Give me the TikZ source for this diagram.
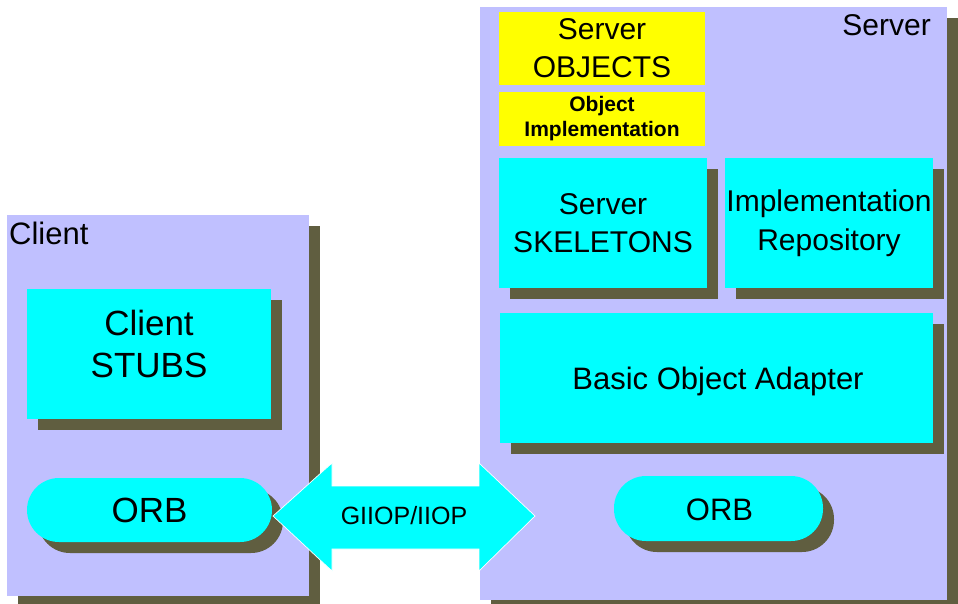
\documentclass[tikz,border=0pt]{standalone}
\usepackage{fontspec}
\setmainfont{Liberation Sans}
\usetikzlibrary{shadows,calc}
\definecolor{lav}{RGB}{192,192,255}
\definecolor{shade}{RGB}{96,94,64}
\definecolor{cyanb}{RGB}{0,255,255}
\definecolor{yel}{RGB}{255,255,0}
\tikzset{
  shd/.style={drop shadow={shadow xshift=11pt,shadow yshift=-11pt,fill=shade,opacity=1}},
  panel/.style={rectangle,fill=lav,inner sep=0pt,shd},
  cbox/.style={rectangle,fill=cyanb,inner sep=0pt,shd},
  ybox/.style={rectangle,fill=yel,inner sep=0pt},
  orbbox/.style={rectangle,rounded corners=32pt,fill=cyanb,inner sep=0pt,shd},
  txt/.style={inner sep=0pt,align=center,text=black},
  fs/.style={font=\fontsize{#1}{#1}\selectfont}
}
\begin{document}
\begin{tikzpicture}[x=1pt,y=-1pt]
\useasboundingbox (0,0) rectangle (958,603);

% the two machines
\node[panel,minimum width=302pt,minimum height=381pt] (client) at (158,405.5) {};
\node[panel,minimum width=467.5pt,minimum height=593pt] (server) at (713.25,303.5) {};
\node[txt,fs=31,anchor=west] (clienttitle) at (9,233) {Client};
\node[txt,fs=30,anchor=east] (servertitle) at (931,25) {Server};

% client side
\node[cbox,minimum width=244pt,minimum height=130pt] (stubs) at (149,354) {};
\node[txt,font=\fontsize{35}{42}\selectfont] (stubstxt) at ([yshift=10pt]stubs.center) {Client\\STUBS};
\node[orbbox,minimum width=245pt,minimum height=64pt,fs=35] (orbc) at (149.5,510) {ORB};

% server side
\node[ybox,minimum width=206pt,minimum height=73pt,txt,font=\fontsize{30}{38}\selectfont] (objs) at (602,48.5) {Server\\OBJECTS};
\node[ybox,minimum width=206pt,minimum height=54pt,txt,font=\fontsize{21}{25}\selectfont\bfseries] (impl) at (602,119) {Object\\Implementation};
\node[cbox,minimum width=208pt,minimum height=130pt,txt,font=\fontsize{30}{38}\selectfont] (skel) at (603,223) {Server\\SKELETONS};
\node[cbox,minimum width=208pt,minimum height=130pt,txt,font=\fontsize{30}{39}\selectfont] (repo) at (829,223) {Implementation\\Repository};
\node[cbox,minimum width=433pt,minimum height=130pt] (boa) at (716.5,378) {};
\node[txt,fs=31] (boatxt) at ([xshift=1.5pt,yshift=-3pt]boa.center) {Basic Object Adapter};
\node[orbbox,minimum width=209pt,minimum height=65pt] (orbs) at (718.5,508.5) {};
\node[txt,fs=31] (orbstxt) at ([xshift=1pt,yshift=-1.5pt]orbs.center) {ORB};

% protocol link between the two ORBs
\coordinate (tl) at (273,516);
\coordinate (tr) at (535,516);
\fill[cyanb,draw=white,line width=0.7pt]
  (tl) -- (332,463) -- (332,486) -- (479,486) -- (479,463) -- (tr)
  -- (479,571) -- (479,549) -- (332,549) -- (332,571) -- cycle;
\node[txt,fs=25] (link) at ($(tl)!0.5!(tr)$) {GIIOP/IIOP};
\end{tikzpicture}
\end{document}
